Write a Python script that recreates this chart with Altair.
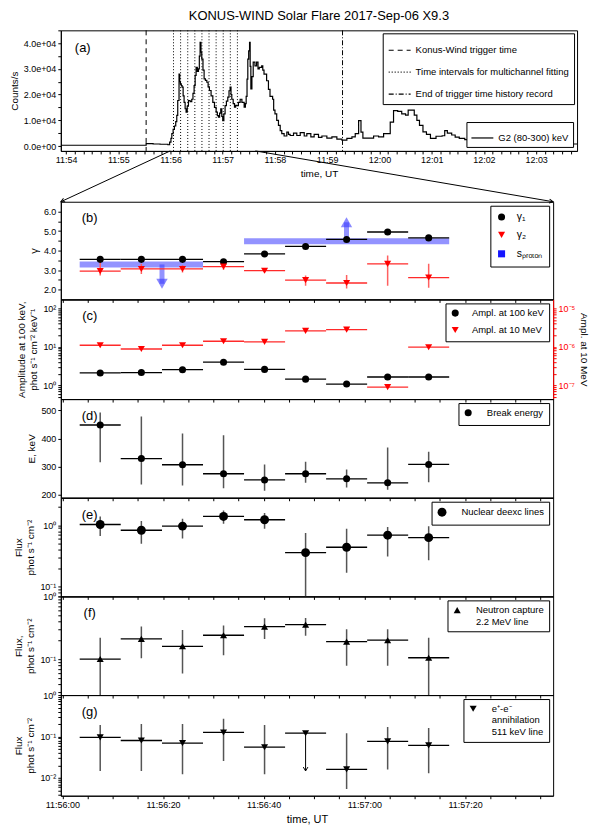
import math
import altair as alt
import pandas as pd

FONT = "Liberation Sans"

# ------------------------------------------------------------------ data
# (a) KW G2 (80-300 keV) count rate; time in s after 11:56:00 UT
lc_t = [-126, -28, -20, -12, -3, -1, 0.5, 1.5, 3, 4.5, 6, 7.2, 8.3, 9.8, 10.6, 11.4, 12.4, 13.3, 14.5,
        15.6, 16.8, 17.9, 19.2, 20.6, 22.5, 24.4, 25.8, 27.1, 28.3, 29.4, 30.8, 32.1, 33.1, 34.0, 35.0,
        35.9, 37.3, 38.6, 40.1, 41.7, 43.2, 44.7, 46.6, 48.6, 50.5, 52.4, 53.8, 55.1, 56.4, 57.7, 58.9,
        60.0, 61.3, 62.7, 64.2, 65.8, 67.2, 68.5, 69.5, 70.4, 72.0, 73.5, 74.8, 76.1, 78.0, 80.0, 82.0,
        84.6, 86.0, 86.9, 87.9, 88.8, 89.8, 90.8, 91.5, 92.3, 93.5, 95.0, 97.0, 98.9, 100.5, 102.0,
        104.7, 106.0, 107.4, 110.4, 112.5, 114.3, 117.3, 118.5, 120.0, 122.0, 124.0, 126.0, 127.8,
        130.5, 133.6, 135.5, 137.4, 141.3, 145.1, 149.0, 153.6, 156.6, 161.2, 165.0, 170.0, 173.9,
        179.6, 185.4, 191.1, 196.9, 202.6, 208.4, 212.2, 216.1, 218.8, 221.0, 227.5, 233.3, 239.0,
        244.8, 249.4, 252.4, 256.2, 261.0, 265.6, 270.0, 273.0, 277.0, 280.0, 283.0, 286.0, 290.0,
        294.0, 298.6, 305.0, 312.0, 315.0, 318.0, 323.0, 327.0, 331.7, 338.0, 345.0, 360.0, 380.0,
        400.0, 420.0, 440.0, 467.0]
lc_counts = [300, 900, 800, 700, 500, 1500, 3000, 4800, 6500, 7800, 9500, 11900, 17700, 28000, 25000, 24200, 23500, 22900, 19500,
             17000, 14500, 13200, 15500, 17700, 17300, 18200, 20500, 23500, 27500, 30600, 29000, 30000, 35000, 40300, 36500,
             33800, 29500, 26100, 25500, 24800, 23000, 21600, 19500, 17000, 15000, 13200, 11800, 11200, 12800, 14500, 11500,
             9900, 12500, 15700, 17500, 19000, 21500, 22900, 20000, 18200, 16500, 15100, 15800, 15700, 17000, 18200, 17000,
             15100, 16500, 19300, 26000, 33800, 37000, 40300, 31000, 22200, 27000, 32600, 31200, 32600, 30000, 30600,
             31200, 29500, 28000, 25400, 22000, 19300, 18200, 14000, 12500, 10000, 8000, 6000, 4800,
             3900, 5400, 4500, 4100, 5000, 4100, 5200, 3900, 4800, 3600, 4500, 3400, 3900,
             3100, 3600, 2700, 2300, 3000, 3600, 4800, 9900, 5400, 3100, 3100, 3900, 3600,
             4800, 4800, 9300, 13800, 13500, 12500, 12000, 14000, 14000, 12000, 10000, 8000, 5500,
             4500, 3000, 3800, 4000, 6000, 5000, 4300, 3500, 3000, 2500, 2200, 1800, 1500,
             1200, 1000, 800, 600]
trigger_t = -28.0
end_record_t = 197.6
line_kinds = ["Konus-Wind trigger time",
              "Time intervals for multichannel fitting",
              "End of trigger time history record"]

# boundaries of the 9 spectral intervals (s after 11:56:00)
bounds = [3.45, 11.6, 19.8, 27.95, 36.1, 44.25, 52.4, 60.55, 68.7, 76.85]

# (b) spectral indices
gamma1 = [3.55, 3.55, 3.55, 3.43, 3.83, 4.21, 4.57, 4.95, 4.65]
gamma2 = [2.95, 3.06, 3.06, 3.18, 2.97, 2.49, 2.34, 3.32, 2.62]
gamma2_lo = [2.72, 2.8, 2.88, 3.02, 2.88, 2.2, 2.06, 2.2, 2.1]
gamma2_hi = [3.45, 3.32, 3.25, 3.38, 3.1, 2.72, 2.75, 3.75, 3.33]
sp_from = [3.45, 36.1]
sp_to = [27.95, 76.85]
sp_val = [3.29, 4.48]
arrow_t = [19.8, 56.45]
arrow_from = [3.29, 4.48]
arrow_head = [2.3, 5.45]
arrow_dir = ["down", "up"]

# (c) amplitudes
amp100 = [2.1, 2.15, 2.55, 4.0, 2.6, 1.45, 1.08, 1.65, 1.65]
amp10 = [1.1e-6, 8.8e-7, 1.1e-6, 1.4e-6, 1.35e-6, 2.6e-6, 2.8e-6, 9.0e-8, 9.8e-7]

# (d) break energy
ebreak = [448, 329, 307, 275, 253, 275, 257, 243, 308]
ebreak_lo = [316, 237, 233, 224, 215, 243, 226, 218, 245]
ebreak_hi = [492, 478, 418, 412, 308, 318, 290, 368, 353]

# (e) nuclear de-excitation lines
nuc = [1.03, 0.83, 0.97, 1.39, 1.23, 0.36, 0.44, 0.69, 0.63]
nuc_lo = [0.67, 0.5, 0.61, 1.06, 0.88, 0.01, 0.17, 0.31, 0.27]
nuc_hi = [1.39, 1.17, 1.28, 1.74, 1.58, 0.75, 0.88, 0.94, 0.96]

# (f) neutron capture line
ncap = [0.1, 0.21, 0.16, 0.24, 0.33, 0.355, 0.19, 0.2, 0.105]
ncap_lo = [0.01, 0.103, 0.059, 0.115, 0.21, 0.235, 0.078, 0.078, 0.026]
ncap_hi = [0.22, 0.33, 0.29, 0.345, 0.45, 0.455, 0.3, 0.3, 0.22]

# (g) 511 keV line (index 5 is an upper limit)
ann = [0.095, 0.08, 0.069, 0.125, 0.055, 0.12, 0.016, 0.076, 0.061]
ann_lo = [0.0147, 0.0147, 0.0122, 0.0254, 0.0122, 0.0147, 0.0054, 0.016, 0.013]
ann_hi = [0.19, 0.2, 0.2, 0.27, 0.19, 0.12, 0.12, 0.17, 0.16]
ann_ul = [0, 0, 0, 0, 0, 1, 0, 0, 0]

# ------------------------------------------------------------------ layout
W_A, H_A = 518, 121
W_B = 494
GAP = 51
A_DOM = [-126, 467]
B_DOM = [-0.3, 97.5]

lefts = bounds[:-1]
rights = bounds[1:]
mids = [(a + b) / 2 for a, b in zip(lefts, rights)]

SUPMAP = str.maketrans("-0123456789", "⁻⁰¹²³⁴⁵⁶⁷⁸⁹")


def sup(n):
    return str(n).translate(SUPMAP)


def log_values(dmin, dmax):
    out = []
    for e in range(-9, 4):
        for k in range(1, 10):
            v = float(f"{k}e{e}")
            if dmin <= v <= dmax:
                out.append(v)
    return out


def log_label_expr(exps):
    e = "round(log(datum.value)/LN10)"
    chain = "".join(f"{e} == {x} ? '10{sup(x)}' : " for x in exps) + "''"
    return f"abs(log(datum.value)/LN10 - {e}) < 0.001 ? ({chain}) : ''"


XB_SCALE = alt.Scale(domain=B_DOM, nice=False, zero=False)
XB_TICKS = list(range(0, 96, 5))
XB_LABEL = ("datum.value % 20 != 0 ? '' : (datum.value < 60 ? '11:56:' + (datum.value < 10 ? '0' : '') + datum.value"
            " : '11:57:' + (datum.value < 70 ? '0' : '') + (datum.value - 60))")


def xb_axis(show):
    if show:
        return alt.Axis(values=XB_TICKS, labelExpr=XB_LABEL, title="time, UT", titleFontSize=11)
    return alt.Axis(values=XB_TICKS, labels=False, title=None)


def letter(txt, x, y):
    return alt.Chart(pd.DataFrame({"lab": [txt]})).mark_text(
        font=FONT, fontSize=13, align="center", baseline="middle", color="black"
    ).encode(x=alt.value(x), y=alt.value(y), text="lab:N")


# ------------------------------------------------------------------ panel (a)
xa_scale = alt.Scale(domain=A_DOM, nice=False, zero=False)
ya_scale = alt.Scale(domain=[-1900, 45000], nice=False, zero=False)
xa_axis = alt.Axis(
    values=list(range(-120, 461, 10)),
    labelExpr="datum.value % 60 != 0 ? '' : (datum.value < 240 ? '11:' + (56 + datum.value/60) : '12:0' + (datum.value/60 - 4))",
    title="time, UT", titleFontSize=10)
ya_axis = alt.Axis(
    values=list(range(0, 45001, 5000)),
    labelExpr="datum.value % 10000 != 0 ? '' : (datum.value == 0 ? '0.0e+00' : format(datum.value/10000, '.1f') + 'e+04')",
    title="Counts/s")

rules_df = pd.DataFrame({
    "t": [trigger_t] + bounds + [end_record_t],
    "kind": [line_kinds[0]] + [line_kinds[1]] * len(bounds) + [line_kinds[2]],
})
lc_df = pd.DataFrame({"t": lc_t, "counts": lc_counts, "series": ["G2 (80-300) keV"] * len(lc_t)})

a_rules = alt.Chart(rules_df).mark_rule(color="black", strokeWidth=1).encode(
    x=alt.X("t:Q", scale=xa_scale, axis=xa_axis),
    strokeDash=alt.StrokeDash(
        "kind:N",
        scale=alt.Scale(domain=line_kinds, range=[[5, 4], [1, 2], [5, 2, 1, 2]]),
        legend=alt.Legend(title=None, orient="top-right", offset=3, symbolType="stroke",
                          symbolSize=484, symbolStrokeColor="black", symbolStrokeWidth=1.2,
                          rowPadding=5, labelFontSize=9.5)),
)
a_curve = alt.Chart(lc_df).mark_line(interpolate="step-after", strokeWidth=1.2, clip=True).encode(
    x=alt.X("t:Q", scale=xa_scale, axis=xa_axis),
    y=alt.Y("counts:Q", scale=ya_scale, axis=ya_axis),
    color=alt.Color("series:N", scale=alt.Scale(domain=["G2 (80-300) keV"], range=["black"]),
                    legend=alt.Legend(title=None, orient="bottom-right", offset=4, symbolType="stroke",
                                      symbolSize=484, symbolStrokeWidth=1.2, labelFontSize=9.5,
                                      padding=4)),
)
panel_a = alt.layer(a_rules, a_curve, letter("(a)", 22, 18)).properties(
    width=W_A, height=H_A,
    title=alt.TitleParams("KONUS-WIND Solar Flare 2017-Sep-06 X9.3", fontSize=13, font=FONT,
                          fontWeight="normal", anchor="middle", offset=3),
)

# ------------------------------------------------------------------ zoom connectors
xb_right_in_a = A_DOM[0] + (A_DOM[1] - A_DOM[0]) * W_B / W_A
top_px = [(v - A_DOM[0]) / (A_DOM[1] - A_DOM[0]) * W_A for v in B_DOM]
bot_px = [0.0, W_B]
angles = [math.degrees(math.atan2(b - t, -GAP)) % 360 for t, b in zip(top_px, bot_px)]
zoom_df = pd.DataFrame({"xa": B_DOM, "xb": [A_DOM[0], xb_right_in_a], "top": [1, 1], "bot": [0, 0], "ang": angles})
sx = alt.X("xa:Q", scale=xa_scale, axis=None)
sy = alt.Y("top:Q", scale=alt.Scale(domain=[0, 1]), axis=None)
conn = alt.Chart(zoom_df).mark_rule(color="black", strokeWidth=1).encode(x=sx, x2="xb:Q", y=sy, y2="bot:Q")
heads = alt.Chart(zoom_df).mark_point(shape="M-0.5,1L0,0L0.5,1", filled=False, color="black",
                                      strokeWidth=1, size=60, opacity=1).encode(
    x=alt.X("xb:Q", scale=xa_scale, axis=None),
    y=alt.Y("bot:Q", scale=alt.Scale(domain=[0, 1]), axis=None),
    angle=alt.Angle("ang:Q", scale=None),
)
spacer = alt.layer(conn, heads).properties(width=W_A, height=GAP, view=alt.ViewBackground(strokeOpacity=0))

# ------------------------------------------------------------------ panel (b)
H_B = 98
yb_scale = alt.Scale(domain=[1.5, 6.5], nice=False, zero=False)
yb_axis = alt.Axis(values=[2, 2.5, 3, 3.5, 4, 4.5, 5, 5.5, 6], labelExpr="datum.value % 1 == 0 ? datum.label : ''",
                   title="γ", titleFontSize=11)
xbax = xb_axis(False)
b_int = pd.DataFrame({"left": lefts, "right": rights, "mid": mids, "g1": gamma1, "g2": gamma2,
                      "lo": gamma2_lo, "hi": gamma2_hi})
b_pts = pd.DataFrame({"mid": mids + mids, "val": gamma1 + gamma2, "series": ["γ₁"] * 9 + ["γ₂"] * 9})
b_sp = pd.DataFrame({"x": sp_from, "x2": sp_to, "y": sp_val})
b_arr = pd.DataFrame({"x": arrow_t, "y": arrow_from, "y2": arrow_head, "dir": arrow_dir})
BLUE = "#3a3aff"
BLUE_T = "rgba(58,58,255,0.6)"
b_series = ["γ₁", "γ₂", "sₚᵣₒₜₒₙ"]
b_leg = alt.Legend(title=None, orient="top-right", offset=4, symbolSize=50, symbolOpacity=1,
                   rowPadding=5, labelFontSize=10.5, labelOffset=10, padding=6)


def arrow_head_layer(direction, shape):
    return alt.Chart(b_arr[b_arr["dir"] == direction]).mark_point(
        filled=True, fill=BLUE_T, strokeOpacity=0, opacity=1, size=130, shape=shape
    ).encode(x=alt.X("x:Q", scale=XB_SCALE, axis=xbax), y=alt.Y("y2:Q", scale=yb_scale, axis=yb_axis))


b_layers = [
    alt.Chart(b_sp).mark_rule(color=BLUE, strokeWidth=6, opacity=0.55).encode(
        x=alt.X("x:Q", scale=XB_SCALE, axis=xbax), x2="x2:Q", y=alt.Y("y:Q", scale=yb_scale, axis=yb_axis)),
    alt.Chart(b_arr).mark_rule(color=BLUE, strokeWidth=5, opacity=0.55).encode(
        x=alt.X("x:Q", scale=XB_SCALE, axis=xbax), y=alt.Y("y:Q", scale=yb_scale, axis=yb_axis), y2="y2:Q"),
    arrow_head_layer("down", "triangle-down"),
    arrow_head_layer("up", "triangle-up"),
    alt.Chart(b_int).mark_rule(color="black", strokeWidth=1.3).encode(
        x=alt.X("left:Q", scale=XB_SCALE, axis=xbax), x2="right:Q", y=alt.Y("g1:Q", scale=yb_scale, axis=yb_axis)),
    alt.Chart(b_int).mark_rule(color="#ff2a2a", strokeWidth=1.3).encode(
        x=alt.X("left:Q", scale=XB_SCALE, axis=xbax), x2="right:Q", y=alt.Y("g2:Q", scale=yb_scale, axis=yb_axis)),
    alt.Chart(b_int).mark_rule(color="#ff6060", strokeWidth=1.5, clip=True).encode(
        x=alt.X("mid:Q", scale=XB_SCALE, axis=xbax), y=alt.Y("lo:Q", scale=yb_scale, axis=yb_axis), y2="hi:Q"),
    alt.Chart(b_pts).mark_point(filled=True, size=50, opacity=1).encode(
        x=alt.X("mid:Q", scale=XB_SCALE, axis=xbax), y=alt.Y("val:Q", scale=yb_scale, axis=yb_axis),
        color=alt.Color("series:N", scale=alt.Scale(domain=b_series, range=["black", "red", "#1515ff"]),
                        legend=b_leg),
        shape=alt.Shape("series:N", scale=alt.Scale(domain=b_series, range=["circle", "triangle-down", "square"]),
                        legend=b_leg)),
    letter("(b)", 29, 16),
]
panel_b = alt.layer(*b_layers).properties(width=W_B, height=H_B)

# ------------------------------------------------------------------ panel (c)
H_C = 100
C_DOM = [0.44, 171]
C_DOM_R = [C_DOM[0] * 1e-7, C_DOM[1] * 1e-7]
yc_scale = alt.Scale(type="log", domain=C_DOM, nice=False)
yc_scale_r = alt.Scale(type="log", domain=C_DOM_R, nice=False)
yc_axis = alt.Axis(values=log_values(*C_DOM), labelExpr=log_label_expr([0, 1, 2]),
                   title=["Amplitude at 100 keV,", "phot s⁻¹ cm⁻² keV⁻¹"])
yc_axis_r = alt.Axis(orient="right", values=log_values(*C_DOM_R), labelExpr=log_label_expr([-7, -6, -5]),
                     labelColor="red", tickColor="red", domainColor="red",
                     title="Ampl. at 10 MeV", titleColor="black")
c_series = ["Ampl. at 100 keV", "Ampl. at 10 MeV"]
c_df = pd.DataFrame({"left": lefts, "right": rights, "mid": mids, "a100": amp100, "a10": amp10,
                     "s100": [c_series[0]] * 9, "s10": [c_series[1]] * 9})
c_leg = alt.Legend(title=None, orient="top-right", offset=4, symbolSize=50, symbolOpacity=1, rowPadding=3,
                   labelFontSize=9.5, labelOffset=12)
c_color = alt.Scale(domain=c_series, range=["black", "red"])
c_shape = alt.Scale(domain=c_series, range=["circle", "triangle-down"])
c_left = alt.layer(
    alt.Chart(c_df).mark_rule(color="black", strokeWidth=1.3).encode(
        x=alt.X("left:Q", scale=XB_SCALE, axis=xbax), x2="right:Q", y=alt.Y("a100:Q", scale=yc_scale, axis=yc_axis)),
    alt.Chart(c_df).mark_point(filled=True, size=50, opacity=1).encode(
        x=alt.X("mid:Q", scale=XB_SCALE, axis=xbax), y=alt.Y("a100:Q", scale=yc_scale, axis=yc_axis),
        color=alt.Color("s100:N", scale=c_color, legend=c_leg),
        shape=alt.Shape("s100:N", scale=c_shape, legend=c_leg)),
    letter("(c)", 29, 17),
)
c_right = alt.layer(
    alt.Chart(c_df).mark_rule(color="#ff2a2a", strokeWidth=1.3).encode(
        x=alt.X("left:Q", scale=XB_SCALE, axis=xbax), x2="right:Q", y=alt.Y("a10:Q", scale=yc_scale_r, axis=yc_axis_r)),
    alt.Chart(c_df).mark_point(filled=True, size=50, opacity=1).encode(
        x=alt.X("mid:Q", scale=XB_SCALE, axis=xbax), y=alt.Y("a10:Q", scale=yc_scale_r, axis=yc_axis_r),
        color=alt.Color("s10:N", scale=c_color, legend=c_leg),
        shape=alt.Shape("s10:N", scale=c_shape, legend=c_leg)),
)
panel_c = alt.layer(c_left, c_right).resolve_scale(y="independent").properties(width=W_B, height=H_C)


# ------------------------------------------------------------------ panels (d)-(g)
def interval_panel(vals, lo, hi, ydom, ylog, yaxis, lab, legend_label, shape, size, height,
                   show_x, ul=None, leg_size=None):
    df = pd.DataFrame({"left": lefts, "right": rights, "mid": mids, "v": vals, "lo": lo, "hi": hi,
                       "series": [legend_label] * 9, "ul": ul if ul else [0] * 9})
    ys = alt.Scale(type="log" if ylog else "linear", domain=ydom, nice=False)
    xax = xb_axis(show_x)
    err_df = df[df["ul"] == 0]
    layers = [
        alt.Chart(df).mark_rule(color="black", strokeWidth=1.3).encode(
            x=alt.X("left:Q", scale=XB_SCALE, axis=xax), x2="right:Q", y=alt.Y("v:Q", scale=ys, axis=yaxis)),
        alt.Chart(err_df).mark_rule(color="#555555", strokeWidth=1.5, clip=True).encode(
            x=alt.X("mid:Q", scale=XB_SCALE, axis=xax), y=alt.Y("lo:Q", scale=ys, axis=yaxis), y2="hi:Q"),
    ]
    if ul:
        ul_df = df[df["ul"] == 1]
        layers.append(alt.Chart(ul_df).mark_rule(color="black", strokeWidth=1).encode(
            x=alt.X("mid:Q", scale=XB_SCALE, axis=xax), y=alt.Y("lo:Q", scale=ys, axis=yaxis), y2="v:Q"))
        layers.append(alt.Chart(ul_df).mark_point(shape="M-0.6,-1L0,0L0.6,-1", filled=False, color="black",
                                                  strokeWidth=1, size=60, opacity=1).encode(
            x=alt.X("mid:Q", scale=XB_SCALE, axis=xax), y=alt.Y("lo:Q", scale=ys, axis=yaxis)))
    layers.append(alt.Chart(df).mark_point(filled=True, size=size, opacity=1, color="black").encode(
        x=alt.X("mid:Q", scale=XB_SCALE, axis=xax), y=alt.Y("v:Q", scale=ys, axis=yaxis),
        shape=alt.Shape("series:N", scale=alt.Scale(domain=[legend_label], range=[shape]),
                        legend=alt.Legend(title=None, orient="top-right", offset=4,
                                          symbolSize=leg_size or size, symbolFillColor="black",
                                          symbolStrokeColor="black", symbolOpacity=1,
                                          labelFontSize=9.5, labelOffset=14,
                                          labelExpr="split(datum.label, '|')"))))
    layers.append(letter(lab, 29, 17))
    return alt.layer(*layers).properties(width=W_B, height=height)


D_DOM = [190, 540]
yd_axis = alt.Axis(values=[200, 300, 400, 500], title="E, keV")
panel_d = interval_panel(ebreak, ebreak_lo, ebreak_hi, D_DOM, False, yd_axis, "(d)", "Break energy",
                         "circle", 50, 99, False)

E_DOM = [0.07, 2.8]
ye_axis = alt.Axis(values=log_values(*E_DOM), labelExpr=log_label_expr([-1, 0]),
                   title=["Flux", "phot s⁻¹ cm⁻²"])
panel_e = interval_panel(nuc, nuc_lo, nuc_hi, E_DOM, True, ye_axis, "(e)", "Nuclear deexc lines",
                         "circle", 80, 99, False)

F_DOM = [0.0266, 1.003]
yf_axis = alt.Axis(values=log_values(*F_DOM), labelExpr=log_label_expr([-1, 0]),
                   title=["Flux,", "phot s⁻¹ cm⁻²"])
panel_f = interval_panel(ncap, ncap_lo, ncap_hi, F_DOM, True, yf_axis, "(f)", "Neutron capture|2.2 MeV line",
                         "triangle-up", 50, 99, False)

G_DOM = [0.0037, 1.003]
yg_axis = alt.Axis(values=log_values(*G_DOM), labelExpr=log_label_expr([-2, -1, 0]),
                   title=["Flux", "phot s⁻¹ cm⁻²"])
panel_g = interval_panel(ann, ann_lo, ann_hi, G_DOM, True, yg_axis, "(g)", "e⁺-e⁻|annihilation|511 keV line",
                         "triangle-down", 50, 101, True, ul=ann_ul)

# ------------------------------------------------------------------ assemble
chart = alt.vconcat(panel_a, spacer, panel_b, panel_c, panel_d, panel_e, panel_f, panel_g,
                    spacing=0, bounds="flush").resolve_scale(
    x="independent", y="independent", color="independent", shape="independent", strokeDash="independent"
).resolve_legend(
    color="independent", shape="independent", strokeDash="independent"
).properties(
    padding={"left": 0, "top": 0, "right": 2, "bottom": 4}
).configure_view(
    stroke="black", strokeWidth=1
).configure_axis(
    labelFont=FONT, titleFont=FONT, labelFontSize=9, titleFontSize=10, titleFontWeight="normal",
    tickSize=3, labelPadding=2, tickColor="black", domainColor="black", labelColor="black",
    titleColor="black", grid=False, labelOverlap=False, labelFlush=False, titlePadding=4
).configure_legend(
    fillColor="white", strokeColor="black", padding=5, labelFont=FONT, labelFontSize=10,
    cornerRadius=0, labelColor="black"
).configure_title(font=FONT)

chart.save("out.html", embed_options={"renderer": "svg", "actions": False})
